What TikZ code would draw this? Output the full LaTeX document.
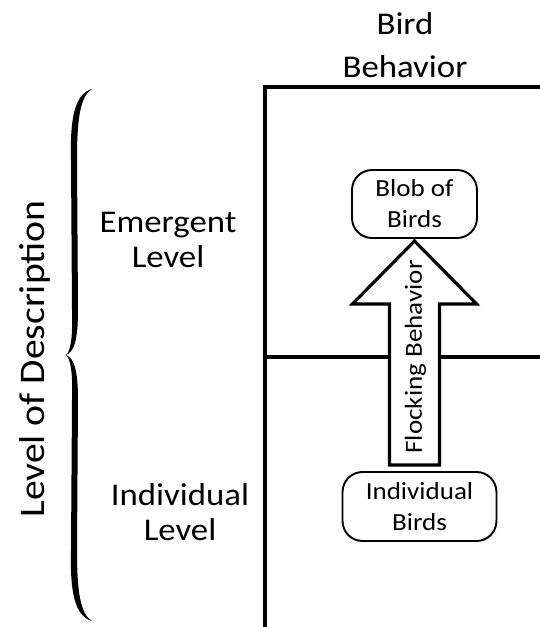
\documentclass[tikz,border=0pt]{standalone}
\usepackage{fontspec}
\setmainfont[FakeStretch=1.1]{Carlito}
\usepackage{tikz}
\usetikzlibrary{calc, positioning}
\newcommand{\bigfont}{\fontsize{18}{20}\selectfont}
\newcommand{\boxfont}{\fontsize{14}{17.6}\selectfont}
\tikzset{birdbox/.style={draw, line width=1.1pt, rounded corners=0.4cm, fill=white, align=center, font=\boxfont},
	lbl/.style={align=center, font=\bigfont},
	rule/.style={line width=2pt},
	fatarrow/.style={line width=1.8pt, fill=white, line join=miter}}

\begin{document}
\begin{tikzpicture}[x=0.02cm, y=-0.02cm]
	\useasboundingbox (0,0) rectangle (540,627);

	% frame of the grid
	\draw [rule] (265,627) -- (265,87) -- (540,87);
	\draw [rule] (265,357) -- (540,357);

	\node [lbl, font={\fontsize{18}{24.4}\selectfont}] (behav) at (405,45) {Bird\\Behavior};
	\node [lbl] (emerg) at (168,240) {Emergent\\Level};
	\node [lbl] (indiv) at (180,512) {Individual\\Level};
	\node [font=\fontsize{20.5}{24}\selectfont, rotate=90] (desc) at (35,359) {Level of Description};

	% the brace, both halves
	\foreach \s in {1,-1}
		\fill [shift={(0,355)}, yscale=\s] (66,0) .. controls (70,-3) and (73,-15) .. (72,-45) -- (71,-195)
			.. controls (70,-235) and (74,-261) .. (92,-266)
			.. controls (80,-259) and (77,-235) .. (77,-195) -- (78,-45)
			.. controls (78,-15) and (74,-3) .. (66,0) -- cycle;

	\node [birdbox, minimum width=2.5cm, minimum height=1.36cm] (blob) at (414.5,204) {Blob of\\Birds};
	\node [birdbox, minimum width=3.08cm, minimum height=1.38cm] (birds) at (419.5,506.5) {Individual\\Birds};

	%big arrow up
	\draw [fatarrow] ($(blob.south)+(0,2)$) -- ++(62,63) -- ++(-37,0) -- ++(0,161) -- ++(-50,0) -- ++(0,-161) -- ++(-37,0) -- cycle;
	\node [font=\boxfont, rotate=90] (flock) at (415.5,357) {Flocking Behavior};
\end{tikzpicture}
\end{document}
